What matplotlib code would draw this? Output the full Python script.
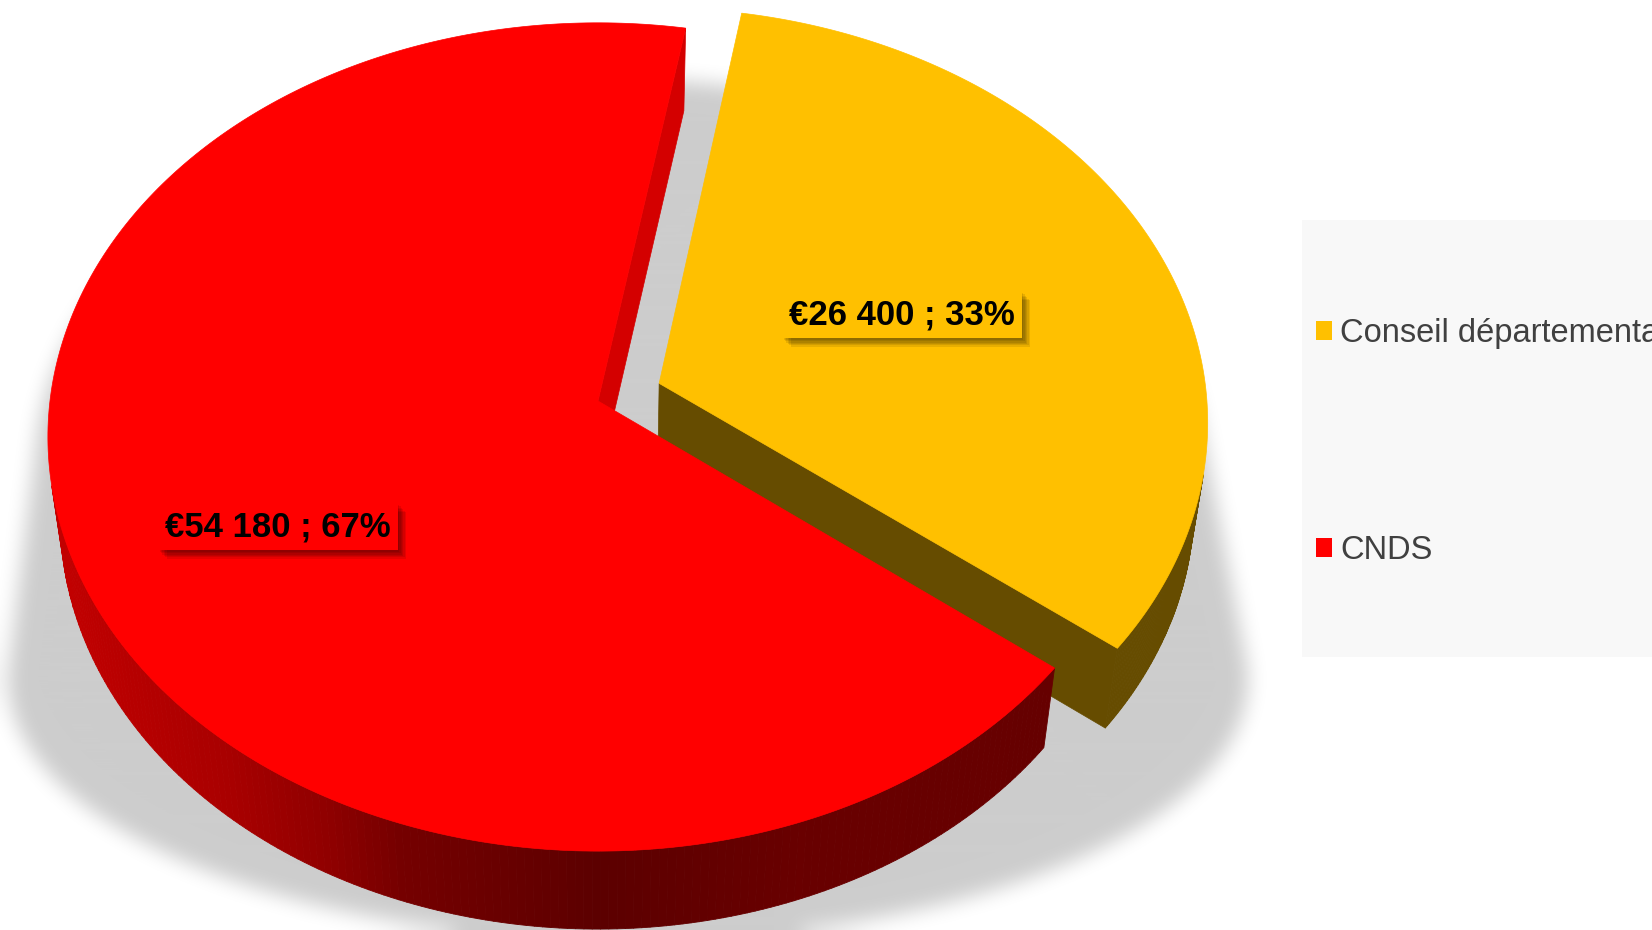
import numpy as np
import matplotlib
matplotlib.use("Agg")
import matplotlib.pyplot as plt
from matplotlib.patches import Polygon, Patch, Rectangle
from matplotlib.collections import PolyCollection
from matplotlib.path import Path
import matplotlib.patheffects as pe

# data
labels = ["Conseil départemental", "CNDS"]
values = [26400, 54180]
colors = ["#FFC000", "#FF0000"]
explode = [0.12, 0.0]

# layout / view (pixels, y downwards)
W, H = 1652, 930
CX, CY = 598, 401
F, DIST, SN, CS = 4165.0, 7.6, 0.75, 0.66
THICK = 0.23
START = 10.0
label_xy = [(902, 315), (278, 527)]

fig = plt.figure(figsize=(W / 100, H / 100), dpi=100)
ax = fig.add_axes([0, 0, 1, 1])
ax.set_xlim(0, W); ax.set_ylim(H, 0); ax.axis("off")


def proj(X, Y, Z):
    d = DIST + Z * CS - Y * SN
    return CX + F * X / d, CY - F * (Y * CS + Z * SN) / d


def hull(pts):
    pts = sorted(set(map(tuple, pts)))
    cross = lambda o, a, b: (a[0]-o[0])*(b[1]-o[1]) - (a[1]-o[1])*(b[0]-o[0])
    lo, up = [], []
    for p in pts:
        while len(lo) >= 2 and cross(lo[-2], lo[-1], p) <= 0: lo.pop()
        lo.append(p)
    for p in reversed(pts):
        while len(up) >= 2 and cross(up[-2], up[-1], p) <= 0: up.pop()
        up.append(p)
    return np.array(lo[:-1] + up[:-1])


def blur(a, r, axis):
    k = 2 * r + 1
    a = np.moveaxis(a, axis, -1)
    p = np.pad(a, [(0, 0), (r + 1, r)], mode="edge")
    c = np.cumsum(p, axis=-1)
    return np.moveaxis((c[:, k:] - c[:, :-k]) / k, -1, axis)


# soft shadow behind the pie
tt = np.linspace(0, 2 * np.pi, 240)
e1 = np.c_[620 + 585 * np.cos(tt), 470 + 390 * np.sin(tt)]
e2 = np.c_[628 + 620 * np.cos(tt), 680 + 260 * np.sin(tt)]
hp = Path(hull(np.vstack([e1, e2])))
gx, gy = np.meshgrid(np.arange(W) + 0.5, np.arange(H) + 0.5)
mask = hp.contains_points(np.c_[gx.ravel(), gy.ravel()]).reshape(H, W).astype(float)
for _ in range(3):
    mask = blur(blur(mask, 9, 0), 9, 1)
rgba = np.zeros((H, W, 4)); rgba[..., 3] = 0.2 * mask
ax.imshow(rgba, extent=(0, W, H, 0), aspect="auto", zorder=0, interpolation="bilinear")
ax.set_xlim(0, W); ax.set_ylim(H, 0)

# 3d pie
frac = np.array(values) / sum(values)
bounds = START + 360 * np.r_[0, np.cumsum(frac)]
red_x = [45, 230, 330, 400, 600, 800, 1060]
red_s = [0.77, 0.66, 0.56, 0.46, 0.36, 0.41, 0.40]


def side_color(i, x):
    if i == 0:
        return "#664C00"
    return (np.interp(x, red_x, red_s), 0, 0)


face_col = ["#664C00", "#D40000"]
order = sorted(range(len(values)), key=lambda i: -np.cos(np.radians((bounds[i] + bounds[i + 1]) / 2)))
z = 2
for i in order:
    t0, t1 = np.radians(bounds[i]), np.radians(bounds[i + 1])
    tm = (t0 + t1) / 2
    ox, oz = explode[i] * np.sin(tm), explode[i] * np.cos(tm)
    ts = np.linspace(t0, t1, 300)
    top = [proj(ox + np.sin(t), 0, oz + np.cos(t)) for t in ts]
    bot = [proj(ox + np.sin(t), -THICK, oz + np.cos(t)) for t in ts]
    apex, apex_b = proj(ox, 0, oz), proj(ox, -THICK, oz)
    # radial faces
    for t, n in [(t0, (-np.cos(t0), np.sin(t0))), (t1, (np.cos(t1), -np.sin(t1)))]:
        if n[0] * (-ox) + n[1] * (-DIST * CS - oz) > 0:
            poly = [apex, proj(ox + np.sin(t), 0, oz + np.cos(t)),
                    proj(ox + np.sin(t), -THICK, oz + np.cos(t)), apex_b]
            ax.add_patch(Polygon(poly, closed=True, fc=face_col[i], ec=face_col[i], lw=0.5, zorder=z))
    # outer wall
    quads, cols = [], []
    for k in range(len(ts) - 1):
        t = (ts[k] + ts[k + 1]) / 2
        if -1 - ox * np.sin(t) - oz * np.cos(t) - DIST * CS * np.cos(t) > 0:
            q = [top[k], top[k + 1], bot[k + 1], bot[k]]
            quads.append(q)
            cols.append(side_color(i, np.mean([p[0] for p in q])))
    if quads:
        ax.add_collection(PolyCollection(quads, facecolors=cols, edgecolors=cols, lw=0.6, zorder=z))
    ax.add_patch(Polygon([apex] + top, closed=True, fc=colors[i], ec=colors[i], lw=0.5, zorder=z + 0.5))
    z += 1

# data labels
shadow = [pe.SimplePatchShadow(offset=(d, -d), shadow_rgbFace="black", alpha=0.09) for d in (1, 2, 3, 4, 5, 6)]
for i, (x, y) in enumerate(label_xy):
    s = "€" + f"{values[i]:,}".replace(",", " ") + f" ; {frac[i] * 100:.0f}%"
    t = ax.text(x, y, s, ha="center", va="center", fontsize=25, fontweight="bold",
                family="Liberation Sans", color="black", zorder=10,
                bbox=dict(boxstyle="square,pad=0.2", fc=colors[i], ec="none"))
    t.get_bbox_patch().set_path_effects(shadow + [pe.Normal()])

# legend
ax.add_patch(Rectangle((1302, 220), 400, 437, fc="#F8F8F8", ec="none", zorder=1))
handles = [Patch(fc=c, ec="none", label=l) for c, l in zip(colors, labels)]
ax.legend(handles=handles, loc="upper left", bbox_to_anchor=(1316, 318), bbox_transform=ax.transData,
          frameon=False, borderpad=0, borderaxespad=0, handlelength=0.5, handleheight=0.5,
          handletextpad=0.25, labelspacing=5.7, prop={"family": "Liberation Sans", "size": 23.5},
          labelcolor="#404040")

fig.savefig("out.png", dpi=100, facecolor="white")
